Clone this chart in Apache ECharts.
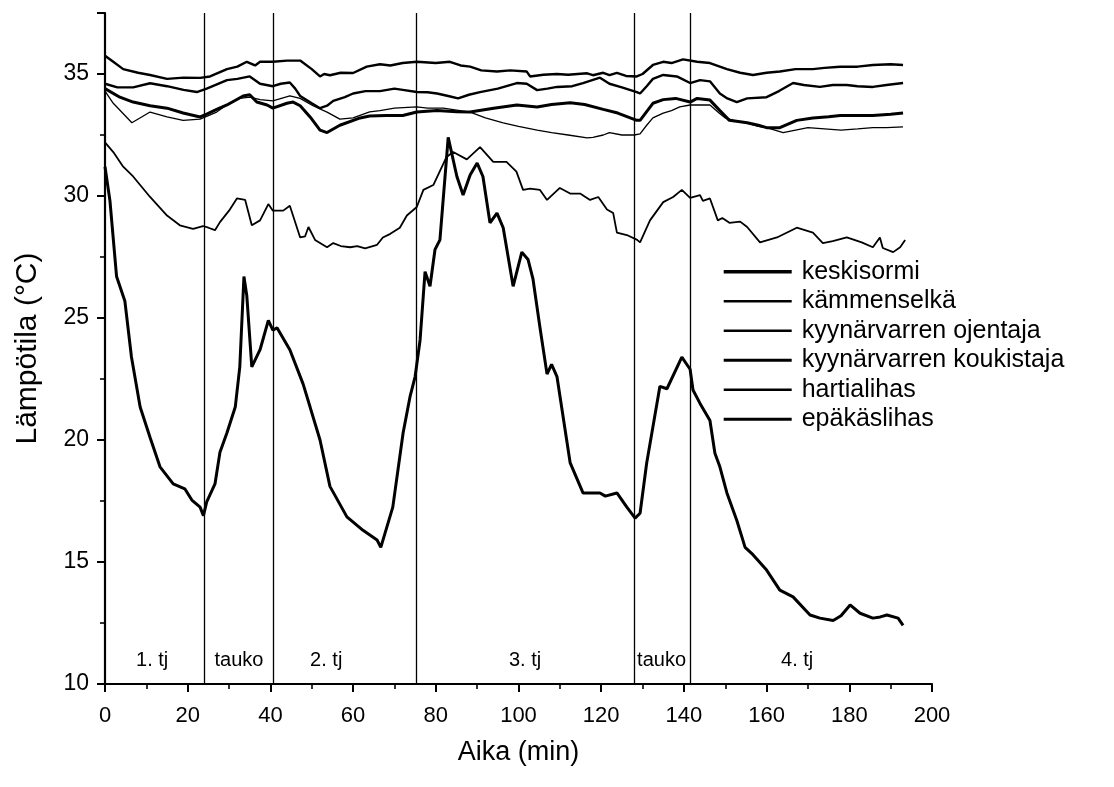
<!DOCTYPE html>
<html>
<head>
<meta charset="utf-8">
<script src="https://cdn.jsdelivr.net/npm/echarts@6/dist/echarts.min.js"></script>
<style>
html,body{margin:0;padding:0;background:#fff;}
#chart{width:1114px;height:787px;}
</style>
</head>
<body>
<div id="chart"></div>
<script>
// ---- data: [time (min), temperature (°C)] ----
const keskisormi = [[0,31.2],[1.2,29.8],[2.8,26.7],[4.8,25.7],[6.4,23.4],[8.5,21.35],[10.9,20.1],[13.3,18.9],[16.5,18.2],[19.3,18.0],[21,17.54],[23,17.25],[23.8,16.9],[24.6,17.46],[26.6,18.2],[27.8,19.5],[29.5,20.3],[31.5,21.35],[32.6,23.0],[33.6,26.7],[34.3,25.9],[35.5,23.0],[37.5,23.7],[39.5,24.9],[40.6,24.5],[41.6,24.6],[44.7,23.7],[47.9,22.3],[49.6,21.35],[52,20.0],[54.4,18.1],[58.5,16.85],[62.4,16.3],[65.8,15.9],[66.7,15.6],[69.6,17.25],[72.1,20.3],[73.8,21.8],[75,22.6],[76.2,24.1],[77.4,26.9],[78.6,26.3],[79.8,27.8],[81,28.2],[83,32.4],[85.1,30.8],[86.6,30.04],[88.3,30.86],[90,31.35],[91.4,30.8],[93.1,28.9],[94.8,29.3],[96.3,28.7],[98.7,26.3],[100.8,27.7],[102.3,27.4],[103.5,26.6],[105.2,24.6],[106.9,22.7],[108,23.1],[109.3,22.6],[112.5,19.06],[115.6,17.83],[119.7,17.83],[121,17.7],[123.8,17.83],[126.2,17.25],[128.2,16.8],[129.4,17.0],[131,19.06],[134.2,22.2],[135.9,22.1],[139.5,23.4],[141.5,22.9],[142.2,22.05],[143.9,21.5],[146.3,20.8],[147.5,19.46],[148.7,18.9],[150.4,17.83],[152.8,16.7],[154.8,15.6],[156.7,15.3],[160,14.67],[163.2,13.85],[166.4,13.57],[170.5,12.83],[172.9,12.7],[176.1,12.6],[178,12.8],[180.2,13.24],[182.6,12.9],[185.7,12.7],[187.5,12.75],[189.1,12.83],[191.8,12.7],[193,12.4]];

const kammenselka = [[0,32.2],[2,31.8],[4.4,31.2],[6.8,30.8],[10.9,29.96],[15,29.2],[18.1,28.8],[21.3,28.65],[23.7,28.77],[25,28.7],[26.6,28.6],[27.8,28.93],[30,29.4],[31.9,29.9],[33.9,29.84],[35.5,28.8],[37.5,29.0],[39.5,29.67],[40.6,29.4],[43.1,29.4],[44.7,29.6],[47.2,28.3],[48.4,28.35],[49.2,28.73],[50.8,28.2],[53.7,27.9],[55.2,28.07],[57,27.95],[59.3,27.9],[61,27.95],[62.9,27.85],[65.8,28.0],[67.2,28.3],[69,28.45],[71.3,28.7],[73,29.2],[75.4,29.55],[77,30.25],[79.4,30.45],[82.6,31.6],[84.2,31.8],[87.5,31.5],[90.7,32.0],[93.9,31.4],[97.1,31.4],[99.5,31.0],[101.1,30.25],[102.8,30.3],[105.2,30.25],[106.9,29.84],[110,30.33],[112.5,30.1],[114.9,30.1],[117.3,29.84],[119.3,29.96],[121.4,29.45],[122.9,29.3],[123.8,28.5],[126.2,28.4],[128.7,28.2],[129.4,28.1],[131.8,29.0],[135,29.75],[137.4,29.96],[139.5,30.25],[141.5,29.92],[143.9,30.04],[144.6,29.8],[146.3,29.9],[148.2,29.0],[149.3,29.1],[151,28.9],[153.6,28.95],[155.3,28.73],[158.4,28.1],[162.5,28.3],[167.3,28.7],[171.2,28.5],[173.6,28.07],[176,28.15],[179.4,28.3],[183,28.1],[185.7,27.9],[187.4,28.3],[188.1,27.87],[190.6,27.7],[192.3,27.9],[193.5,28.2]];

const ojentaja = [[0,34.6],[3,34.45],[6.8,34.45],[10.9,34.62],[15,34.5],[19,34.35],[22.2,34.26],[24.6,34.4],[29.5,34.75],[32,34.8],[35,34.9],[37.5,34.6],[40.6,34.5],[42.5,34.6],[44.7,34.65],[46,34.4],[47.2,34.1],[50,33.8],[52,33.6],[53.7,33.7],[55.2,33.9],[58,34.05],[60,34.2],[63,34.3],[66.5,34.3],[70,34.4],[72,34.35],[75.4,34.26],[78,34.25],[80.3,34.2],[83,34.1],[85.4,34.0],[88,34.15],[90.7,34.26],[95,34.4],[99.6,34.63],[102,34.6],[104.5,34.34],[107,34.4],[109.3,34.47],[113,34.5],[115.6,34.63],[119.7,34.85],[122,34.6],[125,34.45],[128.6,34.26],[129.4,34.2],[131,34.5],[132.5,34.8],[135,34.96],[138.3,34.9],[141.5,34.63],[143.9,34.75],[146.3,34.7],[148.7,34.2],[150.5,34.0],[152.8,33.85],[155.3,34.0],[160,34.05],[163,34.3],[166.4,34.63],[169,34.55],[172.9,34.47],[176,34.55],[179.4,34.55],[182,34.5],[185.7,34.47],[189,34.55],[193,34.63]];

const koukistaja = [[0,34.4],[3.6,34.05],[6.8,33.85],[10.9,33.7],[15,33.6],[18.9,33.4],[23,33.24],[24.6,33.36],[27,33.55],[29.5,33.73],[33.4,34.1],[35,34.15],[36.7,33.85],[39.2,33.73],[40.6,33.6],[44,33.8],[45.5,33.85],[47.2,33.7],[49.6,33.24],[52,32.7],[53.7,32.6],[56.8,32.9],[61.7,33.2],[64,33.28],[68,33.3],[72,33.3],[75.4,33.44],[80.3,33.5],[85,33.45],[88.3,33.44],[94,33.6],[99.6,33.73],[104.5,33.65],[108,33.75],[112.5,33.82],[116,33.75],[120.5,33.55],[124,33.4],[128.6,33.1],[129.4,33.1],[132.5,33.8],[135,33.95],[138,34.0],[141.5,33.85],[143.2,34.0],[146.3,33.93],[148.7,33.5],[151,33.1],[155.3,33.0],[158,32.9],[160,32.8],[163.2,32.8],[167.3,33.1],[171.2,33.2],[175,33.25],[177.8,33.3],[182,33.3],[185.7,33.3],[190,33.35],[193,33.4]];

const hartialihas = [[0,34.3],[2,33.8],[6.5,33.0],[10.9,33.44],[15,33.24],[18.9,33.1],[23,33.15],[27,33.44],[30,33.8],[32.6,34.0],[35,34.05],[37.5,33.95],[40.6,33.9],[44.7,34.1],[47.2,34.0],[50.3,33.7],[53.7,33.44],[56.8,33.15],[60,33.2],[64,33.45],[66.5,33.5],[70,33.6],[75.4,33.65],[78,33.6],[81.8,33.6],[88.3,33.44],[92,33.2],[96.3,33.0],[100,32.85],[104.5,32.7],[108,32.6],[112,32.5],[116.6,32.38],[118,32.4],[120.5,32.5],[122,32.6],[125,32.5],[128,32.5],[129.4,32.55],[131,32.9],[132.5,33.2],[135,33.4],[137,33.5],[139,33.65],[141.5,33.73],[144,33.73],[146.3,33.73],[148.5,33.4],[150,33.2],[152,33.1],[155,33.0],[158,32.85],[160,32.8],[164,32.6],[167,32.7],[170,32.8],[174,32.75],[178,32.7],[182,32.75],[185.7,32.8],[189,32.8],[193,32.83]];

const epakaslihas = [[0,35.75],[2,35.5],[4.4,35.2],[8,35.05],[10.9,34.96],[15,34.8],[19,34.85],[23,34.84],[25.4,34.9],[29.5,35.2],[32,35.3],[34.3,35.5],[36.3,35.35],[37.5,35.5],[40.6,35.5],[44,35.55],[47.2,35.55],[50,35.2],[52,34.9],[53,35.0],[54.4,34.95],[57,35.05],[60,35.04],[63.3,35.3],[66.5,35.4],[69,35.35],[72,35.45],[75.4,35.5],[80,35.45],[83.4,35.5],[86,35.35],[88.3,35.3],[91,35.15],[94.8,35.1],[98,35.15],[102,35.1],[102.8,34.9],[106,34.97],[109.3,35.0],[112,34.97],[116.6,35.03],[118,34.95],[120.5,35.05],[122,34.95],[123.8,35.05],[126,34.92],[128.6,34.9],[130,35.0],[132.5,35.37],[135,35.5],[137,35.45],[139.8,35.6],[143.2,35.5],[146.3,35.45],[150.4,35.2],[153.6,35.05],[156.7,34.96],[160,35.05],[163.2,35.1],[167,35.2],[171.2,35.2],[174,35.25],[177.8,35.3],[182,35.3],[185.7,35.37],[190,35.4],[193,35.37]];

const seriesNames = ['keskisormi','kämmenselkä','kyynärvarren ojentaja','kyynärvarren koukistaja','hartialihas','epäkäslihas'];

// phase boundaries (min) and phase labels
const phaseBounds = [23.9, 40.6, 75.2, 127.9, 141.5];
const phaseLabels = ['1. tj','tauko','2. tj','3. tj','tauko','4. tj'];
const phaseLabelX = [11.4, 32.4, 53.5, 101.6, 134.6, 167.4];
const phaseLabelY = 10.95;

const xTicks = [0,20,40,60,80,100,120,140,160,180,200];
const yTicks = [10,15,20,25,30,35];

const FONT = "'Liberation Sans', Arial, sans-serif";
const chart = echarts.init(document.getElementById('chart'), null, {renderer:'canvas'});

const datasets = [keskisormi, kammenselka, ojentaja, koukistaja, hartialihas, epakaslihas];
const widths = [3, 1.8, 2.4, 3, 1.3, 2.4];
const legendWidths = [3.4, 2.6, 2.6, 3.2, 2.5, 2.8];

const lineSeries = datasets.map((d,i)=>({
  name: seriesNames[i],
  type: 'line',
  data: d,
  symbol: 'line',
  showSymbol: false,
  smooth: false,
  z: 3,
  lineStyle: {color:'#000', width: widths[i]},
  itemStyle: {color:'#000'}
}));

const option = {
  animation: false,
  backgroundColor: '#fff',
  grid: {left:105, right:182, top:13, bottom:103, containLabel:false},
  legend: {
    data: seriesNames.map((n,i)=>({name:n, lineStyle:{color:'#000', width: legendWidths[i]}})),
    orient: 'vertical',
    left: 722, top: 257,
    itemWidth: 68, itemHeight: 14, itemGap: 0,
    padding: 0,
    selectedMode: false,
    itemStyle: {opacity: 0},
    textStyle: {fontFamily: FONT, fontSize: 25, color:'#000', lineHeight: 29.5, padding:[0,0,0,5]}
  },
  xAxis: {
    type: 'value', min: xTicks[0], max: xTicks[xTicks.length-1], interval: 20,
    name: 'Aika (min)', nameLocation: 'middle', nameGap: 55,
    nameTextStyle: {fontFamily: FONT, fontSize: 27, color:'#000'},
    axisLine: {show:true, onZero:false, lineStyle:{color:'#000', width:2.2}},
    axisTick: {show:true, inside:false, length:8, lineStyle:{color:'#000', width:2}},
    minorTick: {show:true, splitNumber:2, length:5, lineStyle:{color:'#000', width:1.6}},
    axisLabel: {fontFamily: FONT, fontSize: 22, color:'#000', margin: 21},
    splitLine: {show:false}
  },
  yAxis: {
    type: 'value', min: yTicks[0], max: 37.5, interval: 5,
    name: 'Lämpötila (°C)', nameLocation: 'middle', nameGap: 62, nameRotate: 90,
    nameTextStyle: {fontFamily: FONT, fontSize: 30, color:'#000'},
    axisLine: {show:true, onZero:false, lineStyle:{color:'#000', width:2.2}},
    axisTick: {show:true, inside:false, length:8, lineStyle:{color:'#000', width:2}},
    minorTick: {show:true, splitNumber:2, length:5, lineStyle:{color:'#000', width:1.6}},
    axisLabel: {fontFamily: FONT, fontSize: 23, color:'#000', margin: 16, showMaxLabel:false},
    splitLine: {show:false}
  },
  series: lineSeries.concat([{
    name: 'phases',
    type: 'scatter',
    symbolSize: 0,
    z: 2,
    itemStyle: {opacity: 1, color:'#000'},
    data: phaseLabelX.map((x,i)=>({value:[x, phaseLabelY], name: phaseLabels[i]})),
    label: {show:true, position:'inside', formatter:'{b}', fontFamily: FONT, fontSize: 20, color:'#000', opacity:1, textBorderWidth:0},
    markLine: {
      silent: true, symbol: ['none','none'],
      label: {show:false},
      lineStyle: {color:'#000', width:1.3, type:'solid', opacity:1},
      data: phaseBounds.map(v=>({xAxis: v}))
    }
  }])
};
chart.setOption(option);
</script>
</body>
</html>
